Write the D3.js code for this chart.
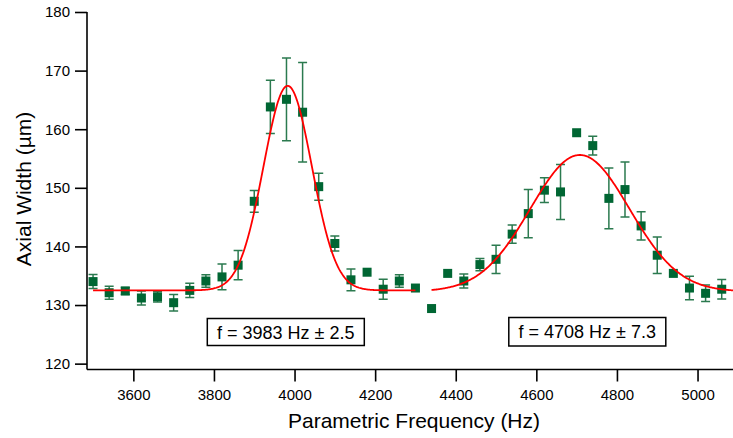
<!DOCTYPE html>
<html>
<head>
<meta charset="utf-8">
<script src="https://cdn.jsdelivr.net/npm/d3@7"></script>
<style>
  html, body { margin: 0; padding: 0; background: #fff; }
  svg { display: block; }
  text { font-family: "Liberation Sans", Arial, Helvetica, sans-serif; fill: #000; }
</style>
</head>
<body>
<svg id="chart" width="733" height="438"></svg>
<script>
// Measured axial width versus parametric drive frequency
const frequency = [
  3500, 3540, 3580, 3620, 3660, 3700, 3740, 3780, 3820, 3860,
  3900, 3940, 3980, 4020, 4060, 4100, 4140, 4180, 4220, 4260,
  4300, 4340, 4380, 4420, 4460, 4500, 4540, 4580, 4620, 4660,
  4700, 4740, 4780, 4820, 4860, 4900, 4940, 4980, 5020, 5060
];
const axialWidth = [
  134.0, 132.1, 132.4, 131.2, 131.4, 130.4, 132.5, 134.1, 134.8, 136.8,
  147.7, 163.8, 165.1, 162.9, 150.2, 140.5, 134.3, 135.6, 132.7, 134.1,
  132.9, 129.4, 135.4, 134.1, 136.9, 137.8, 142.1, 145.6, 149.6, 149.3,
  159.4, 157.2, 148.2, 149.7, 143.5, 138.5, 135.4, 132.9, 132.0, 132.7
];
// Standard error of each width (null where no bar is shown)
const widthError = [
  1.2, 1.1, 0.6, 1.2, 0.9, 1.4, 1.2, 1.05, 2.2, 2.5,
  1.85, 4.55, 7.05, 8.5, 2.3, 1.3, 1.85, null, 1.7, 1.05,
  null, null, null, 1.2, 1.05, 2.4, 1.55, 4.1, 2.1, 4.7,
  null, 1.6, 5.2, 4.7, 2.4, 3.1, null, 2.0, 1.4, 1.65
];

// Gaussian fits of the two resonances
const fitCenter    = [3983, 4708];
const fitCenterErr = [2.5, 7.3];
const fitAmplitude = [34.9, 23.3];
const fitSigma     = [60, 123];
const fitBaseline  = [132.5, 132.3];
const fitRange     = [[3500, 4300], [4340, 5088]];

const xTicks = [3600, 3800, 4000, 4200, 4400, 4600, 4800, 5000];
const yTicks = [120, 130, 140, 150, 160, 170, 180];

const svg = d3.select("#chart");

const x = d3.scaleLinear().domain([3485, 5088]).range([87, 733]);
const y = d3.scaleLinear().domain([119, 180]).range([369.5, 12]);

// Axes
const xAxis = svg.append("g")
  .attr("transform", `translate(0,${y(119)})`)
  .call(d3.axisBottom(x).tickValues(xTicks).tickSize(12).tickPadding(8).tickFormat(d3.format("d")));
const yAxis = svg.append("g")
  .attr("transform", `translate(${x(3485)},0)`)
  .call(d3.axisLeft(y).tickValues(yTicks).tickSize(12).tickPadding(5).tickFormat(d3.format("d")));

[xAxis, yAxis].forEach(g => {
  g.select(".domain").attr("stroke", "#000").attr("stroke-width", 1.6);
  g.selectAll(".tick line").attr("stroke", "#000").attr("stroke-width", 1.6);
  g.selectAll(".tick text")
    .attr("font-family", "Liberation Sans, Arial, sans-serif")
    .attr("font-size", 15).attr("fill", "#000");
});
// Keep the axis lines without end caps
xAxis.select(".domain").attr("d", `M${x(3485)},0H${x(5088)}`);
yAxis.select(".domain").attr("d", `M0,${y(119)}V${y(180)}`);

// Axis titles
svg.append("text")
  .attr("x", 414).attr("y", 428)
  .attr("text-anchor", "middle")
  .attr("font-size", 21)
  .text("Parametric Frequency (Hz)");
svg.append("text")
  .attr("transform", "translate(31,189) rotate(-90)")
  .attr("text-anchor", "middle")
  .attr("font-size", 21)
  .text("Axial Width (µm)");

const points = frequency.map((f, i) => ({ f, w: axialWidth[i], e: widthError[i] }));

// Error bars
const errG = svg.append("g")
  .attr("stroke", "#2b7a4f").attr("stroke-width", 1.5).attr("fill", "none");
const withErr = points.filter(d => d.e != null);
errG.selectAll("path").data(withErr).join("path")
  .attr("d", d => {
    const cx = x(d.f), y0 = y(d.w - d.e), y1 = y(d.w + d.e), h = 4.5;
    return `M${cx},${y0}V${y1}M${cx - h},${y0}H${cx + h}M${cx - h},${y1}H${cx + h}`;
  });

// Data markers
const m = 9;
svg.append("g").selectAll("rect").data(points).join("rect")
  .attr("x", d => x(d.f) - m / 2)
  .attr("y", d => y(d.w) - m / 2)
  .attr("width", m).attr("height", m)
  .attr("fill", "#006633");

// Fit curves
const line = d3.line().x(d => x(d[0])).y(d => y(d[1]));
fitCenter.forEach((c, k) => {
  const [f0, f1] = fitRange[k];
  const pts = d3.range(f0, f1 + 0.5, 2).map(f =>
    [f, fitBaseline[k] + fitAmplitude[k] * Math.exp(-((f - c) ** 2) / (2 * fitSigma[k] ** 2))]);
  svg.append("path")
    .attr("d", line(pts))
    .attr("fill", "none")
    .attr("stroke", "#ff0000")
    .attr("stroke-width", 1.8);
});

// Fit result boxes
const boxes = [
  { cx: 285.8, top: 318.5, w: 157, h: 27 },
  { cx: 587.3, top: 317.5, w: 157, h: 28.5 }
];
boxes.forEach((b, k) => {
  const g = svg.append("g");
  g.append("rect")
    .attr("x", b.cx - b.w / 2).attr("y", b.top)
    .attr("width", b.w).attr("height", b.h)
    .attr("fill", "#fff").attr("stroke", "#000").attr("stroke-width", 1.5);
  g.append("text")
    .attr("x", b.cx).attr("y", b.top + b.h / 2 + 6.5)
    .attr("text-anchor", "middle")
    .attr("font-size", 18)
    .text(`f = ${fitCenter[k]} Hz ± ${fitCenterErr[k]}`);
});
</script>
</body>
</html>
